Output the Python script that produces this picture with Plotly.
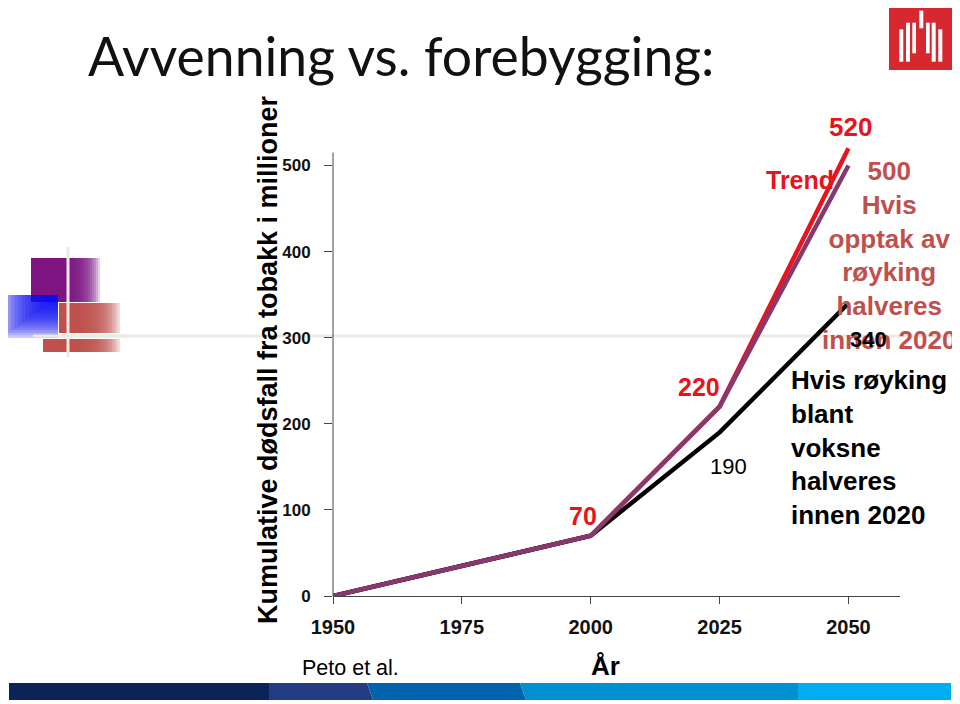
import plotly.graph_objects as go

# ---- data ----
years = [1950, 2000, 2025, 2050]
trend = [0, 70, 220, 520]
halved_uptake = [0, 70, 220, 500]
halved_adults = [0, 70, 190, 340]
x_ticks = [1950, 1975, 2000, 2025, 2050]
y_ticks = [0, 100, 200, 300, 400, 500]

# page renders the figure offset by the default 8px body margin
OFF = 8
W, H = 960, 704
L, R, T, B = 333 - OFF, 60 + OFF, 144 - OFF, 108 + OFF
PW, PH = W - L - R, H - T - B


def px(x):
    return (x - OFF - L) / PW


def py(y):
    return (H - B - (y - OFF)) / PH


RED = "#E8141C"
PURPLE = "#86396E"
MUTED = "#C0504D"

fig = go.Figure()
fig.add_trace(go.Scatter(x=years, y=trend, mode="lines", line=dict(color=RED, width=4.5), hoverinfo="skip"))
fig.add_trace(go.Scatter(x=years, y=halved_adults, mode="lines", line=dict(color="#000000", width=4.5), hoverinfo="skip"))
fig.add_trace(go.Scatter(x=years, y=halved_uptake, mode="lines", line=dict(color=PURPLE, width=4.5), hoverinfo="skip"))

shapes = []


def rect(x0, y0, x1, y1, color, opacity=1.0, layer="above"):
    shapes.append(dict(type="rect", xref="paper", yref="paper", x0=px(x0), x1=px(x1), y0=py(y1), y1=py(y0),
                       fillcolor=color, opacity=opacity, line=dict(width=0), layer=layer))


def fade(x0, y0, x1, y1, color, solid_to, n=16):
    # solid part, then stacked translucent rects that thin out to the right
    if solid_to > x0:
        rect(x0, y0, solid_to, y1, color)
    step = (x1 - solid_to) / n
    for k in range(n):
        rect(solid_to, y0, solid_to + (k + 1) * step, y1, color, opacity=0.2)


# decorative template lines
shapes.append(dict(type="line", xref="paper", yref="paper", x0=px(33), x1=px(968), y0=py(336), y1=py(336),
                   line=dict(color="#EEEAE3", width=3), layer="below"))
# purple square
fade(31, 258, 100, 302, "#7E1480", 68)
# blue square: nested rects -> white at bottom-left, blue at top-right
bx0, bx1, by0, by1 = 0, 58, 295, 338
rect(bx0, by0, bx1, by1, "#0A0AF5", opacity=0.06)
n = 16
for k in range(n):
    xa = bx0 + k * (bx1 - bx0) / n
    yb = by1 - k * (by1 - by0) / n
    rect(xa, by0, bx1, yb, "#0A0AF5", opacity=0.16)
# red square and bar
fade(59, 303, 120, 333, "#C0504D", 78)
fade(43, 339, 120, 352, "#C0504D", 78)
shapes.append(dict(type="line", xref="paper", yref="paper", x0=px(68), x1=px(68), y0=py(247), y1=py(357),
                   line=dict(color="#EEEAE3", width=3)))
shapes.append(dict(type="line", xref="paper", yref="paper", x0=px(33), x1=px(130), y0=py(336), y1=py(336),
                   line=dict(color="#EEEAE3", width=3)))

# logo
rect(889, 2, 953, 70, "#D6282E")
bars = [(899.3, 903.3, 29.3, 61.7), (906, 910, 22.7, 61.7), (912.3, 916, 22.7, 53.3), (919.3, 923.3, 10.7, 28.3),
        (926, 929.7, 22.7, 53.3), (931.7, 935.7, 22.7, 61.7), (938.3, 942.3, 29.3, 61.7)]
for a0, a1, b0, b1 in bars:
    rect(a0, b0, a1, b1, "#FFFFFF")


# bottom bar
def poly(pts, color):
    d = "M " + " L ".join(f"{px(a)},{py(b)}" for a, b in pts) + " Z"
    shapes.append(dict(type="path", xref="paper", yref="paper", path=d, fillcolor=color, line=dict(width=0)))


yb0, yb1 = 683, 700
poly([(9, yb0), (269, yb0), (269, yb1), (9, yb1)], "#0B2358")
poly([(269, yb0), (367, yb0), (373, yb1), (269, yb1)], "#243C82")
poly([(367, yb0), (520, yb0), (526, yb1), (373, yb1)], "#0063AC")
poly([(520, yb0), (798, yb0), (798, yb1), (526, yb1)], "#0090CF")
poly([(798, yb0), (951, yb0), (951, yb1), (798, yb1)], "#00ADEE")

# y axis line up to ~515
shapes.append(dict(type="line", xref="paper", yref="y", x0=0, x1=0, y0=0, y1=515,
                   line=dict(color="#444444", width=1)))

ann = []
ann.append(dict(text="Avvenning vs. forebygging:", xref="paper", yref="paper", x=px(86), y=py(55),
                xanchor="left", yanchor="middle", showarrow=False,
                font=dict(family="Lato", size=53.5, color="#111111")))
ann.append(dict(text="<b>Kumulative dødsfall fra tobakk i millioner</b>", xref="paper", yref="paper",
                x=px(268), y=py(360), textangle=-90, xanchor="center", yanchor="middle", showarrow=False,
                font=dict(family="Liberation Sans", size=27, color="#000000")))


def lab(x, y, text, dx, dy, size, color, bold=True):
    t = f"<b>{text}</b>" if bold else text
    ann.append(dict(text=t, x=x, y=y, xref="x", yref="y", xshift=dx, yshift=dy, showarrow=False,
                    xanchor="center", yanchor="middle",
                    font=dict(family="Liberation Sans", size=size, color=color)))


lab(years[3], trend[3], trend[3], 2, 21, 26, RED)
ann.append(dict(text="<b>Trend</b>", xref="paper", yref="paper", x=px(800), y=py(180), showarrow=False,
                xanchor="center", yanchor="middle", font=dict(family="Liberation Sans", size=25, color=RED)))
ann.append(dict(text=f"<b>{halved_uptake[3]}<br>Hvis<br>opptak av<br>røyking<br>halveres<br>innen 2020</b>",
                xref="paper", yref="paper", x=px(889), y=py(255), showarrow=False, align="center",
                xanchor="center", yanchor="middle", font=dict(family="Liberation Sans", size=26, color=MUTED)))
lab(years[3], halved_adults[3], halved_adults[3], 20, -36, 22, "#000000")
lab(years[2], trend[2], trend[2], -21, 20, 25, RED)
lab(years[2], halved_adults[2], halved_adults[2], 9, -34, 22, "#000000", bold=False)
lab(years[1], trend[1], trend[1], -8, 20, 25, RED)
ann.append(dict(text="<b>Hvis røyking<br>blant<br>voksne<br>halveres<br>innen 2020</b>",
                xref="paper", yref="paper", x=px(789), y=py(447), showarrow=False, align="left",
                xanchor="left", yanchor="middle", font=dict(family="Liberation Sans", size=26, color="#000000")))
ann.append(dict(text="Peto et al.", xref="paper", yref="paper", x=px(300), y=py(668), showarrow=False,
                xanchor="left", yanchor="middle", font=dict(family="Liberation Sans", size=21.5, color="#000000")))
ann.append(dict(text="<b>År</b>", xref="paper", yref="paper", x=px(605), y=py(666), showarrow=False,
                xanchor="center", yanchor="middle", font=dict(family="Liberation Sans", size=26, color="#000000")))

fig.update_layout(
    width=W, height=H, autosize=False,
    margin=dict(l=L, r=R, t=T, b=B, pad=0),
    paper_bgcolor="#FFFFFF", plot_bgcolor="rgba(0,0,0,0)",
    showlegend=False,
    shapes=shapes, annotations=ann,
    xaxis=dict(range=[1950, 2060], tickvals=x_ticks, ticktext=[f"<b>{v}</b>" for v in x_ticks],
               showgrid=False, zeroline=False, showline=True, linecolor="#444444", linewidth=1,
               ticks="outside", ticklen=7, tickcolor="#444444", ticklabelstandoff=6,
               tickfont=dict(family="Liberation Sans", size=20, color="#111111")),
    yaxis=dict(range=[0, 525], tickvals=y_ticks, ticktext=[f"<b>{v}</b>" for v in y_ticks],
               showgrid=False, zeroline=False, showline=False,
               ticks="outside", ticklen=8, tickcolor="#444444", ticklabelstandoff=10,
               tickfont=dict(family="Liberation Sans", size=17, color="#111111")),
)

fig.write_html("out.html")
